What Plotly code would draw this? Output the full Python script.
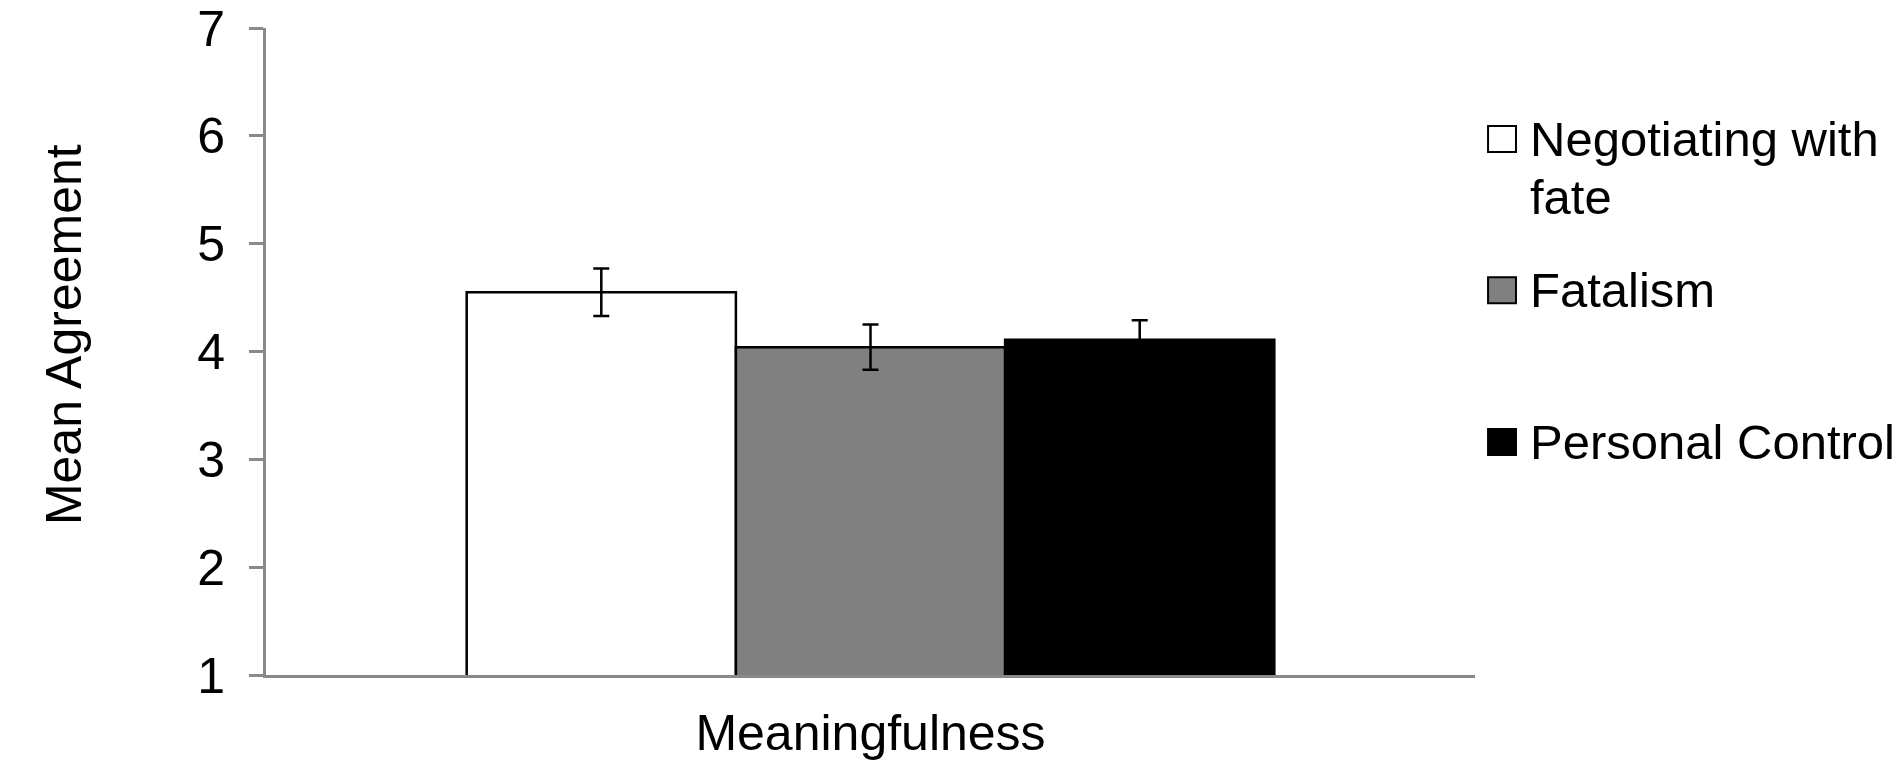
import plotly.graph_objects as go

categories = ["Meaningfulness"]
series_names = ["Negotiating with fate", "Fatalism", "Personal Control"]
legend_labels = ["Negotiating with<br>fate", "Fatalism", "Personal Control"]
means = [4.55, 4.04, 4.11]
errors = [0.22, 0.21, 0.18]
fill_colors = ["#FFFFFF", "#808080", "#000000"]
y_ticks = [1, 2, 3, 4, 5, 6, 7]

FONT = "Liberation Sans, Arial, sans-serif"
AXIS_GRAY = "#898989"
FS = 50
LEG_FS = 49

fig = go.Figure()
for name, m, e, c in zip(series_names, means, errors, fill_colors):
    fig.add_trace(go.Bar(
        x=categories, y=[m], name=name,
        marker=dict(color=c, line=dict(color="#000000", width=2.5)),
        error_y=dict(type="data", array=[e], visible=True, color="#000000",
                     thickness=2.5, width=8),
        showlegend=False,
    ))

# manual legend (large swatches like the original)
sw_y = [0.8286, 0.5945, 0.3603]
line_step = 0.0896  # 58 px between wrapped lines, as in the original
for lbl, c, yc in zip(legend_labels, fill_colors, sw_y):
    fig.add_shape(type="rect", xref="paper", yref="paper",
                  x0=1.0108, x1=1.0339, y0=yc - 0.0201, y1=yc + 0.0201,
                  fillcolor=c, line=dict(color="#000000", width=2))
    for i, part in enumerate(lbl.split("<br>")):
        fig.add_annotation(xref="paper", yref="paper", x=1.0438,
                           y=yc - i * line_step, yanchor="middle",
                           xanchor="left", align="left", showarrow=False,
                           text=part,
                           font=dict(family=FONT, size=LEG_FS, color="#000000"))

fig.add_annotation(xref="paper", yref="paper", x=-0.167, y=0.5255,
                   xanchor="center", yanchor="middle", textangle=-90,
                   showarrow=False, text="Mean Agreement",
                   font=dict(family=FONT, size=FS, color="#000000"))

# page body has an 8px margin, so the figure is 8px smaller than the window
fig.update_layout(
    width=1893, height=760,
    margin=dict(l=258, r=426, t=20, b=93, autoexpand=False),
    paper_bgcolor="#FFFFFF", plot_bgcolor="#FFFFFF",
    barmode="group", bargap=0.332, bargroupgap=0,
    font=dict(family=FONT, size=FS, color="#000000"),
    showlegend=False,
)
fig.update_yaxes(range=[1, 7], tickvals=y_ticks, ticktext=[str(t) for t in y_ticks],
                 showgrid=False, zeroline=False, showline=True, automargin=False,
                 ticklabeloverflow="allow",
                 linecolor=AXIS_GRAY, linewidth=3, ticks="outside", ticklen=14,
                 tickcolor=AXIS_GRAY, tickwidth=3, ticklabelstandoff=14,
                 tickfont=dict(family=FONT, size=FS, color="#000000"))
fig.update_xaxes(showgrid=False, zeroline=False, showline=True, automargin=False,
                 ticklabeloverflow="allow",
                 linecolor=AXIS_GRAY, linewidth=3, ticks="",
                 tickfont=dict(family=FONT, size=FS, color="#000000"),
                 ticklabelstandoff=12)

fig.write_html("out.html")
